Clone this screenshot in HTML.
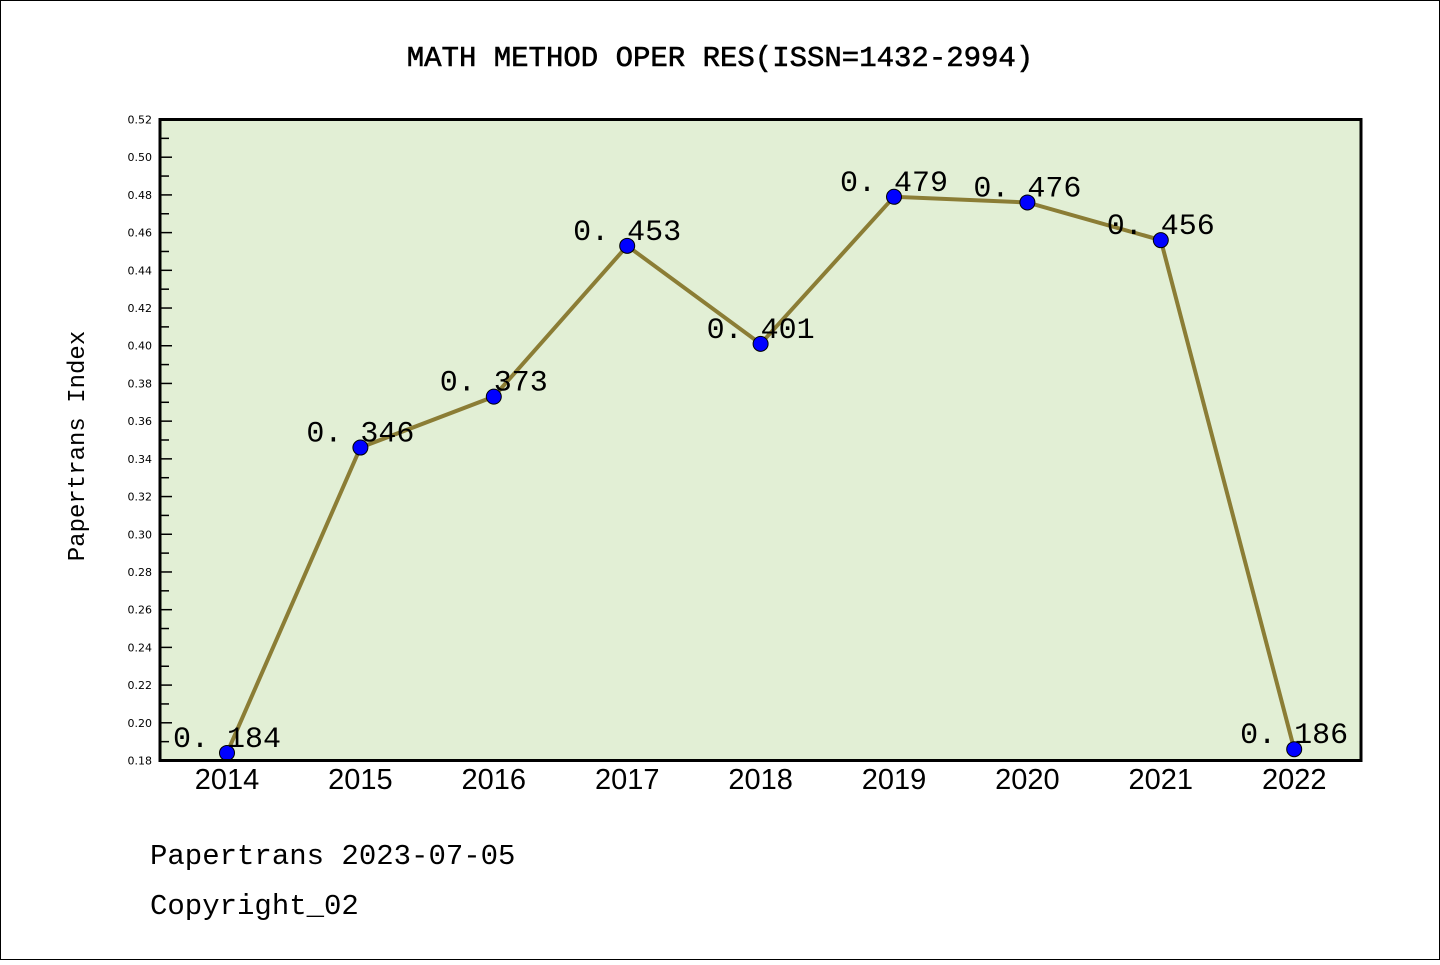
<!DOCTYPE html>
<html><head><meta charset="utf-8"><style>
body{margin:0;background:#fff;}
svg text{font-family:"Liberation Mono","WenQuanYi Zen Hei",monospace;}
</style></head><body>
<svg width="1440" height="960" xmlns="http://www.w3.org/2000/svg">
<rect x="0.5" y="0.5" width="1439" height="959" fill="#fff" stroke="#000" stroke-width="1"/>
<text x="720" y="66" text-anchor="middle" font-size="29" stroke="#000" stroke-width="0.6">MATH METHOD OPER RES(ISSN=1432-2994)</text>
<rect x="160" y="119.5" width="1201" height="641" fill="#e2efd5"/>
<g id="yaxis"></g>
<g id="xaxis"></g>
<g id="series"></g>
<rect x="160" y="119.5" width="1201" height="641" fill="none" stroke="#000" stroke-width="3"/>
<text transform="translate(84,446) rotate(-90)" text-anchor="middle" font-size="24">Papertrans Index</text>
<text x="150" y="864" font-size="29">Papertrans 2023-07-05</text>
<text x="150" y="914" font-size="29">Copyright_02</text>
</svg>
<script>
const years = ["2014","2015","2016","2017","2018","2019","2020","2021","2022"];
const values = [0.184,0.346,0.373,0.453,0.401,0.479,0.476,0.456,0.186];
const valueLabels = ["0. 184","0. 346","0. 373","0. 453","0. 401","0. 479","0. 476","0. 456","0. 186"];
const yTicks = ["0.18","0.20","0.22","0.24","0.26","0.28","0.30","0.32","0.34","0.36","0.38","0.40","0.42","0.44","0.46","0.48","0.50","0.52"];
const NS="http://www.w3.org/2000/svg";
const yMin=0.18,yMax=0.52,plotTop=119.5,plotBot=760.5;
function yS(v){return plotBot-(v-yMin)/(yMax-yMin)*(plotBot-plotTop);}
function xS(i){return 227+i*133.4;}
function mk(t,a,p){const e=document.createElementNS(NS,t);for(const k in a)e.setAttribute(k,a[k]);p.appendChild(e);return e;}
const ya=document.getElementById('yaxis');
yTicks.forEach((t,i)=>{
  const v=parseFloat(t),yy=yS(v);
  if(i>0&&i<yTicks.length-1){const l=mk('line',{x1:160,x2:172,y1:yy,y2:yy,stroke:'#000','stroke-width':1.5},ya);
  
  }
  const tx=mk('text',{x:152,y:yy+4,'text-anchor':'end','font-size':11,style:'font-family:"DejaVu Sans",sans-serif'},ya);tx.textContent=t;
  
  
  if(i<yTicks.length-1){const m=mk('line',{x1:160,x2:169,y1:yS(v+0.01),y2:yS(v+0.01),stroke:'#000','stroke-width':1.5},ya);
  
  }
});
const xa=document.getElementById('xaxis');
years.forEach((t,i)=>{
  const tx=mk('text',{x:xS(i),y:789,'text-anchor':'middle','font-size':29,style:'font-family:"Liberation Sans",sans-serif'},xa);tx.textContent=t;
  
  
});
const s=document.getElementById('series');
const pl=mk('polyline',{points:values.map((v,i)=>xS(i)+','+yS(v)).join(' '),fill:'none',stroke:'#8b7d35','stroke-width':4},s);


values.forEach((v,i)=>{
  const c=mk('circle',{cx:xS(i),cy:yS(v),r:7.5,fill:'#0000ff',stroke:'#000','stroke-width':1},s);
  
  
  const tx=mk('text',{x:xS(i),y:yS(v)-6,'text-anchor':'middle','font-size':30},s);tx.textContent=valueLabels[i];
  
  
});
</script>
</body></html>
